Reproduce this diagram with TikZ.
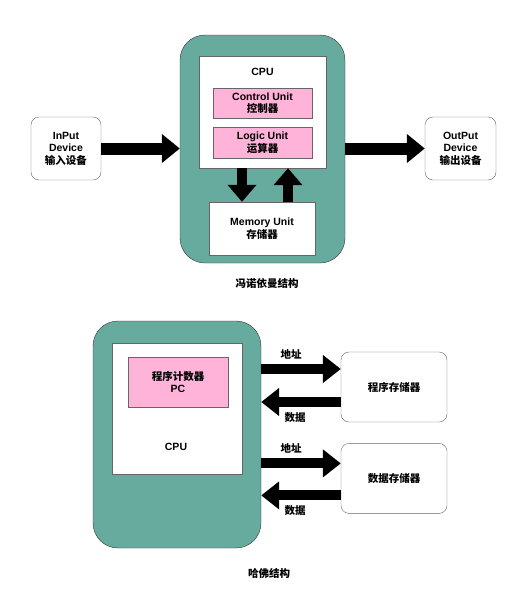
\documentclass[tikz,border=0pt]{standalone}
\usepackage{fontspec}
\setmainfont{Liberation Sans}
\newfontfamily\cjk{Noto Sans CJK SC}
\usetikzlibrary{arrows.meta,positioning}
\definecolor{shellgreen}{HTML}{67AB9F}
\definecolor{unitpink}{HTML}{FFB3D9}

\begin{document}
\begin{tikzpicture}[x=1pt,y=-1pt,font=\bfseries\fontsize{10.5}{12.5}\selectfont]
	\tikzset{shell/.style={draw=black!80, fill=shellgreen, rounded corners=25pt, inner sep=0pt},
		wblock/.style={draw=black!60, fill=white, inner sep=0pt},
		pblock/.style={draw=black!60, fill=unitpink, align=center, inner sep=0pt},
		rblock/.style={draw=black!60, fill=white, rounded corners=8pt, align=center, inner sep=0pt},
		fatarrow/.style={line width=12pt, -{Triangle[length=18pt 0,width=28pt 0]}},
		vfatarrow/.style={line width=10pt, -{Triangle[length=17pt 0,width=28pt 0]}},
		busarrow/.style={line width=10pt, -{Triangle[length=18pt 0,width=27pt 0]}},
	}
	\useasboundingbox (0,0) rectangle (527,590);
	% von Neumann
	\node [shell, minimum width=165pt, minimum height=228pt] (vn) at (262.5,149) {};
	\node [wblock, minimum width=127pt, minimum height=112pt] (cpu1) at (262.5,112) {};
	\node (cpu1lbl) at (262.5,72) {CPU};
	\node [pblock, minimum width=99pt, minimum height=30pt] (cu) at (262.5,103) {Control Unit\\\cjk 控制器};
	\node [pblock, minimum width=99pt, minimum height=31pt, below = 9pt of cu] (lu) {Logic Unit\\\cjk 运算器};
	\node [wblock, align=center, minimum width=106pt, minimum height=53pt] (mem) at (262,228.5) {Memory Unit\\\cjk 存储器};
	\node [rblock, minimum width=70pt, minimum height=63pt] (inp) at (66,148.5) {InPut\\Device\\\cjk 输入设备};
	\node [rblock, minimum width=71pt, minimum height=63pt] (outp) at (460.5,148.5) {OutPut\\Device\\\cjk 输出设备};
	\node (vntitle) at (267,283) {\cjk 冯诺依曼结构};
	\draw [fatarrow] (inp.east) -- (inp.east -| vn.west);
	\draw [fatarrow] (vn.east |- outp.west) -- (outp.west);
	\draw [vfatarrow] ([xshift=-20.5pt]cpu1.south) -- ([xshift=-20.5pt]cpu1.south |- mem.north);
	\draw [vfatarrow] ([xshift=25.5pt]cpu1.south |- mem.north) -- ([xshift=25.5pt]cpu1.south);
	% Harvard
	\node [shell, minimum width=168pt, minimum height=227pt] (hv) at (177,434.5) {};
	\node [wblock, minimum width=130pt, minimum height=131pt] (cpu2) at (177,408.5) {};
	\node [pblock, minimum width=100pt, minimum height=50pt] (pc) at (178,382) {\cjk 程序计数器\\PC};
	\node (cpu2lbl) at (176,447) {CPU};
	\node [rblock, minimum width=106pt, minimum height=70pt] (pm) at (394,387) {\cjk 程序存储器};
	\node [rblock, minimum width=106pt, minimum height=70pt, below = 21pt of pm] (dm) {\cjk 数据存储器};
	\node (hvtitle) at (269,574) {\cjk 哈佛结构};
	\draw [busarrow] ([yshift=18pt]pm.west -| hv.east) -- ([yshift=18pt]pm.west);
	\draw [busarrow] ([yshift=-15pt]pm.west) -- ([yshift=-15pt]pm.west -| hv.east);
	\draw [busarrow] ([yshift=15pt]dm.west -| hv.east) -- ([yshift=15pt]dm.west);
	\draw [busarrow] ([yshift=-17pt]dm.west) -- ([yshift=-17pt]dm.west -| hv.east);
	\node (addr1) at (291,354) {\cjk 地址};
	\node (data1) at (295,418) {\cjk 数据};
	\node (addr2) at (291,448) {\cjk 地址};
	\node (data2) at (295,511) {\cjk 数据};
\end{tikzpicture}
\end{document}
